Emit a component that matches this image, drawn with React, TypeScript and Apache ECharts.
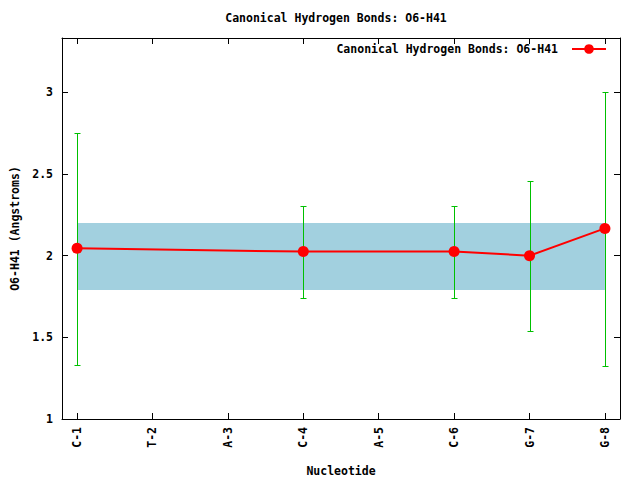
import React, { useEffect, useRef } from "react";
import * as echarts from "echarts";

const categories = ["C-1", "T-2", "A-3", "C-4", "A-5", "C-6", "G-7", "G-8"];
const pointIndex = [0, 3, 5, 6, 7];
const meanValues = [2.045, 2.025, 2.026, 2.0, 2.167];
const errLow = [1.33, 1.74, 1.74, 1.54, 1.325];
const errHigh = [2.753, 2.305, 2.305, 2.46, 3.0];
const bandLow = 1.79;
const bandHigh = 2.2;
const bandStart = 0;
const bandEnd = 7;
const yTicks = [1, 1.5, 2, 2.5, 3];
const xTicks = categories.map((_, i) => i);
const seriesName = "Canonical Hydrogen Bonds: O6-H41";

const FONT = "'DejaVu Sans Mono', 'Liberation Mono', monospace";

export default function App() {
  const ref = useRef<HTMLDivElement>(null);
  useEffect(() => {
    if (!ref.current) return;
    const chart = echarts.init(ref.current, null, { renderer: "svg" });
    const txt = { fontFamily: FONT, fontWeight: "bold" as const, fontSize: 11.5, color: "#000" };
    const xCommon = {
      type: "value" as const,
      min: -0.2,
      max: 7.2,
      splitLine: { show: false },
      axisLine: { show: true, onZero: false, lineStyle: { color: "#000", width: 1 } },
      axisTick: { show: true, inside: true, length: 6, customValues: xTicks, lineStyle: { color: "#000" } },
    };
    const yCommon = {
      type: "value" as const,
      min: 1,
      max: 3.333,
      splitLine: { show: false },
      axisLine: { show: true, onZero: false, lineStyle: { color: "#000", width: 1 } },
      axisTick: { show: true, inside: true, length: 6, customValues: yTicks, lineStyle: { color: "#000" } },
    };
    chart.setOption({
      animation: false,
      backgroundColor: "#fff",
      grid: { left: 62, right: 20, top: 38, bottom: 61, containLabel: false, outerBoundsMode: "none" },
      graphic: [
        {
          type: "text",
          x: 336,
          y: 18,
          style: { text: seriesName, font: `bold 11.5px ${FONT}`, fill: "#000", align: "center", verticalAlign: "middle" },
        },
      ],
      legend: {
        data: [seriesName],
        right: 28,
        top: 38,
        align: "right",
        itemWidth: 34,
        itemHeight: 12,
        textStyle: { ...txt, padding: [0, 9, 0, 0] },
      },
      xAxis: [
        {
          ...xCommon,
          position: "bottom",
          name: "Nucleotide",
          nameLocation: "middle",
          nameGap: 46,
          nameTextStyle: txt,
          axisLabel: {
            ...txt,
            rotate: 90,
            margin: 8,
            customValues: xTicks,
            formatter: (v: number) => categories[Math.round(v)] ?? "",
          },
        },
        { ...xCommon, position: "top", axisLabel: { show: false } },
      ],
      yAxis: [
        {
          ...yCommon,
          position: "left",
          name: "O6-H41 (Angstroms)",
          nameLocation: "middle",
          nameGap: 38,
          nameTextStyle: txt,
          axisLabel: {
            ...txt,
            margin: 9,
            customValues: yTicks,
            formatter: (v: number) => String(v),
          },
        },
        { ...yCommon, position: "right", axisLabel: { show: false } },
      ],
      series: [
        {
          type: "custom",
          z: 1,
          silent: true,
          data: [[bandStart, bandLow, bandEnd, bandHigh]],
          renderItem: (params: any, api: any) => {
            const p1 = api.coord([api.value(0), api.value(3)]);
            const p2 = api.coord([api.value(2), api.value(1)]);
            return {
              type: "rect",
              shape: { x: p1[0], y: p1[1], width: p2[0] - p1[0], height: p2[1] - p1[1] },
              style: { fill: "#a2d0df" },
            };
          },
        },
        {
          type: "custom",
          z: 2,
          silent: true,
          data: pointIndex.map((x, i) => [x, errLow[i], errHigh[i]]),
          renderItem: (params: any, api: any) => {
            const lo = api.coord([api.value(0), api.value(1)]);
            const hi = api.coord([api.value(0), api.value(2)]);
            const x = Math.round(lo[0]) + 0.5;
            const yl = Math.round(lo[1]) + 0.5;
            const yh = Math.round(hi[1]) + 0.5;
            const w = 3;
            const st = { stroke: "#00c000", lineWidth: 1 };
            return {
              type: "group",
              children: [
                { type: "line", shape: { x1: x, y1: yl, x2: x, y2: yh }, style: st },
                { type: "line", shape: { x1: x - w, y1: yl, x2: x + w, y2: yl }, style: st },
                { type: "line", shape: { x1: x - w, y1: yh, x2: x + w, y2: yh }, style: st },
              ],
            };
          },
        },
        {
          name: seriesName,
          type: "line",
          z: 3,
          data: pointIndex.map((x, i) => [x, meanValues[i]]),
          symbol: "circle",
          symbolSize: 11,
          lineStyle: { color: "#ff0000", width: 2 },
          itemStyle: { color: "#ff0000" },
        },
      ],
    });
    return () => chart.dispose();
  }, []);
  return <div ref={ref} style={{ position: "fixed", left: 0, top: 0, width: 640, height: 480 }} />;
}
